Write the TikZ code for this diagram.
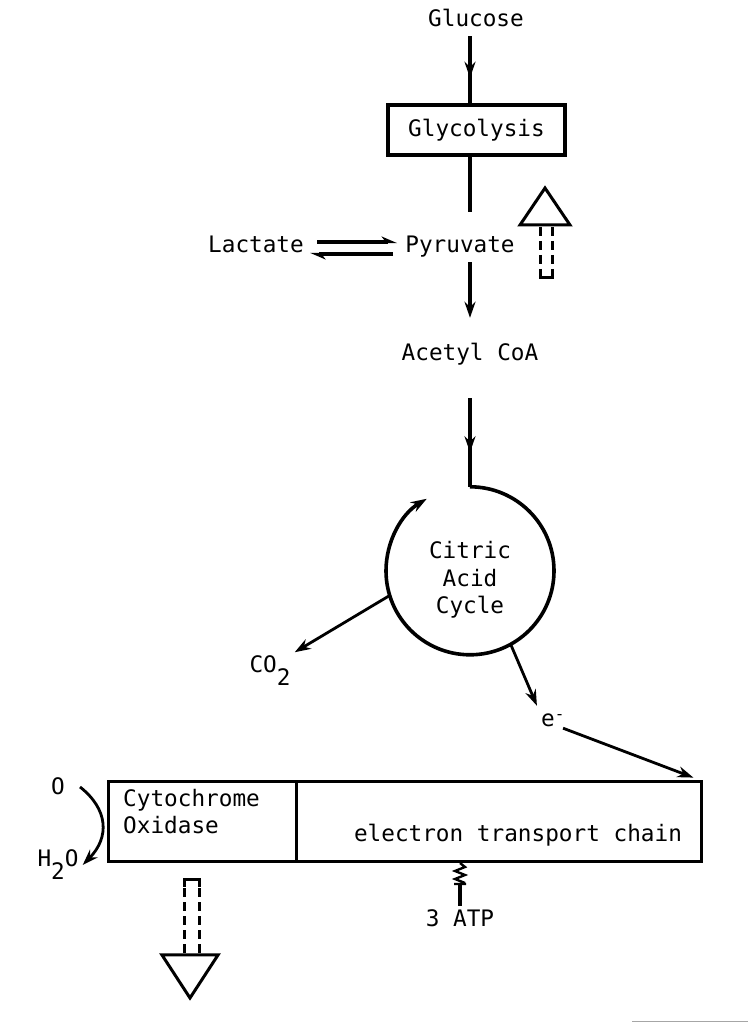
\documentclass[tikz,border=0pt]{standalone}
\usepackage{fontspec}
\setmonofont{DejaVu Sans Mono}
\usetikzlibrary{arrows.meta,decorations.markings,positioning,calc}

\tikzset{
  txt/.style={inner sep=4pt, text height=17pt, text depth=5pt},
  box/.style={draw, line width=3.4pt},
  flow/.style={line width=3.6pt},
  thinflow/.style={line width=2.8pt},
  midarrow/.style={postaction={decorate}, decoration={markings,
      mark=at position #1 with {\arrow{Stealth[length=16pt,width=11pt]}}}},
  hollow/.style={line width=3pt, line join=miter},
  shaft/.style={line width=3pt, dash pattern=on 9pt off 5pt}
}

\begin{document}
\begin{tikzpicture}[x=1pt, y=1pt, font=\ttfamily\fontsize{22.7}{27.5}\selectfont, >={Stealth[length=16pt,width=11pt]}]
 \useasboundingbox (0,0) rectangle (748,1023);
 \coordinate (axis) at (470,0);
 % main route
 \node[txt] (glucose) at (476,1002) {Glucose};
 \node[box, minimum width=177pt, minimum height=50pt, inner sep=0pt] (glyco) at (476.5,893) {Glycolysis};
 \node[txt] (pyruvate) at (460,776) {Pyruvate};
 \node[txt] (lactate) at (256,776) {Lactate};
 \node[txt] (acetyl) at (470,668) {Acetyl CoA};
 \node[circle, minimum size=168pt, inner sep=0pt] (ccycle) at (470,452) {};
 \node[align=center] (cctext) at ([yshift=-9pt]ccycle.center) {Citric\\Acid\\Cycle};
 \node[txt] (co2) at (270,356) {CO\raisebox{-13pt}{2}};
 \node[txt] (em) at (553,302) {e\textsuperscript{-}};

 \draw[flow, midarrow=0.62] (glucose.south -| axis) -- (glyco.north -| axis);
 \draw[flow, shorten >=20pt] (glyco.south -| axis) -- (pyruvate.north -| axis);
 \draw[flow, ->, shorten >=22pt] (pyruvate.south -| axis) -- (acetyl.north -| axis);
 \draw[line width=3.2pt, -{Stealth[harpoon,length=13pt,width=11pt]}, shorten <=9pt, shorten >=4pt]
   ([yshift=5pt]lactate.east) -- ([yshift=5pt]pyruvate.west);
 \draw[line width=3.2pt, -{Stealth[harpoon,length=13pt,width=11pt]}, shorten <=8pt, shorten >=2pt]
   ([yshift=-7pt]pyruvate.west) -- ([yshift=-7pt]lactate.east);
 \draw[flow, midarrow=0.61] ($(acetyl.south -| axis)+(0,-28)$) -- (ccycle.north);
 \draw[flow, ->] (ccycle.north) arc[start angle=90, end angle=-239, radius=84];
 \draw[thinflow, ->] (ccycle.197) -- (co2);
 \draw[thinflow, ->] (ccycle.299) -- (em.north west);

 % respiratory chain
 \node[box, minimum width=188pt, minimum height=80pt, anchor=south west, inner sep=0pt] (cyto) at (107,160) {};
 \node[box, minimum width=405pt, minimum height=80pt, anchor=south west, inner sep=0pt] (etc) at (295,160) {};
 \node[align=left, anchor=north west, inner sep=0pt] (cytotext) at ([xshift=16pt,yshift=-9pt]cyto.north west) {Cytochrome\\Oxidase};
 \node (etctext) at (518,188) {electron transport chain};
 \draw[thinflow, ->] ($(em.south east)+(-6,8)$) -- ($(etc.north east)+(-10,2)$);

 \node[txt] (oxy) at (58,234) {O};
 \node[txt] (water) at (58,162) {H\raisebox{-13pt}{2}O};
 \draw[thinflow, ->] ($(oxy.east)+(11,2)$) .. controls (108,214) and (110,186) .. ($(water.east)+(0,-4)$);

 \node[txt] (atp) at (460,102) {3 ATP};
 \draw[line width=2.4pt] (etc.south -| atp.north) -- ++(5,-4) -- ++(-10,-4) -- ++(10,-4) -- ++(-10,-4) -- ++(10,-4) ++(-11,-1) -- ++(12,0);
 \draw[flow] ($(atp.north)+(0,21)$) -- (atp.north);

 % hollow arrows
 \draw[hollow] (520,798) -- (545,835) -- (570,798) -- cycle;
 \draw[shaft] (540,796) -- (540,752);
 \draw[shaft] (552,796) -- (552,752);
 \draw[hollow] (540,752) -- (540,745) -- (552,745) -- (552,752);
 \draw[hollow] (162,68) -- (190,25) -- (218,68) -- cycle;
 \draw[shaft] (184,70) -- (184,136);
 \draw[shaft] (199,70) -- (199,136);
 \draw[hollow] (184,136) -- (184,143) -- (199,143) -- (199,136);

 \draw[black!35, line width=1.2pt] (632,1.2) -- (748,1.2);
\end{tikzpicture}
\end{document}
